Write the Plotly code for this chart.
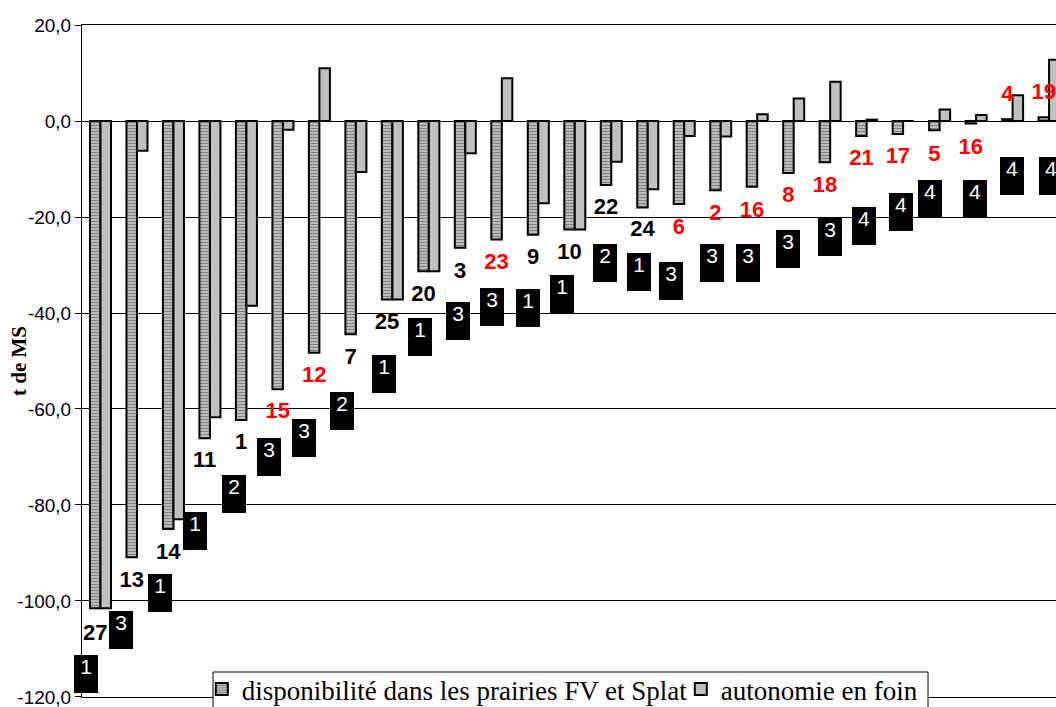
import plotly.graph_objects as go

# Exploitations, in plotting order
farm_ids = [27, 13, 14, 11, 1, 15, 12, 7, 25, 20, 3, 23, 9, 10, 22, 24, 6, 2, 16, 8,
            18, 21, 17, 5, 16, 4, 19]
# True -> identifier printed in red
farm_red = [False, False, False, False, False, True, True, False, False, False, False,
            True, False, False, False, False, True, True, True, True, True, True, True,
            True, True, True, True]

# t de MS
dispo_prairies = [-101.5, -90.9, -85.0, -66.1, -62.3, -55.9, -48.3, -44.4, -37.2, -31.3,
                  -26.4, -24.7, -23.7, -22.6, -13.3, -18.0, -17.3, -14.4, -13.7, -10.8,
                  -8.6, -3.1, -2.7, -1.9, -0.5, 0.4, 0.8]
autonomie_foin = [-101.5, -6.2, -83.0, -61.7, -38.5, -1.8, 11.0, -10.6, -37.2, -31.3,
                  -6.7, 8.9, -17.1, -22.6, -8.5, -14.2, -3.1, -3.2, 1.4, 4.7,
                  8.2, 0.3, 0.0, 2.4, 1.25, 5.4, 12.8]

# class of each farm (black boxes)
farm_class = [1, 3, 1, 1, 2, 3, 3, 2, 1, 1, 3, 3, 1, 1, 2, 1, 3, 3, 3, 3, 3, 4, 4, 4, 4, 4, 4]

# label placement (value axis) for identifiers and class boxes
id_label_y = [-106.9, -96.0, -90.2, -71.0, -67.1, -60.8, -53.3, -49.4, -42.2, -36.25,
              -31.5, -29.6, -28.6, -27.6, -18.3, -22.9, -22.3, -19.4, -18.75, -15.7,
              -13.7, -8.0, -7.6, -7.2, -5.7, 5.25, 5.8]
class_box_y = [-115.2, -106.1, -98.4, -85.5, -77.75, -70.1, -66.1, -60.4, -52.8, -45.0,
               -41.6, -38.7, -39.0, -36.0, -29.6, -31.4, -33.3, -29.6, -29.6, -26.7,
               -24.1, -21.9, -19.0, -16.25, -16.25, -11.4, -11.4]
class_box_shift = [-14.2, -15.8, -13.2, -14.7, -12.2, -14.1, -15.1, -14.1, -8.3, -9.0,
                   -7.6, -9.5, -10.0, -12.4, -6.4, -8.9, -13.7, -9.2, -8.8, -5.3,
                   -0.3, -2.8, -2.4, -9.2, -0.7, -0.7, 1.7]

y_ticks = [-120, -100, -80, -60, -40, -20, 0, 20]
y_tick_text = ["-120,0", "-100,0", "-80,0", "-60,0", "-40,0", "-20,0", "0,0", "20,0"]

x = list(range(len(farm_ids)))
bar_w = 0.288

fig = go.Figure()
fig.add_trace(go.Bar(
    x=x, y=dispo_prairies, name="disponibilité dans les prairies FV et Splat",
    width=bar_w, offset=-bar_w,
    marker=dict(color="#c8c8c8",
                line=dict(color="black", width=2),
                pattern=dict(shape="-", fgcolor="#303030", bgcolor="#d0d0d0",
                             size=3, solidity=0.5)),
))
fig.add_trace(go.Bar(
    x=x, y=autonomie_foin, name="autonomie en foin",
    width=bar_w, offset=0,
    marker=dict(color="#c0c0c0", line=dict(color="black", width=2)),
))
fig.add_trace(go.Scatter(
    x=[i - bar_w / 2 for i in x], y=id_label_y, mode="text",
    text=[f"<b>{f}</b>" for f in farm_ids],
    textposition="middle center",
    textfont=dict(family="Liberation Sans", size=22,
                  color=["#ff0000" if r else "black" for r in farm_red]),
    showlegend=False, hoverinfo="skip",
))

annotations = []
for i, (c, yb, dx) in enumerate(zip(farm_class, class_box_y, class_box_shift)):
    annotations.append(dict(
        x=i, y=yb, xref="x", yref="y", xshift=dx, text=str(c), showarrow=False,
        bgcolor="black", width=24, height=38, borderpad=0, borderwidth=0,
        valign="top", font=dict(family="Liberation Sans", size=21, color="white"),
    ))
annotations.append(dict(
    x=-0.0647, y=0.5, xref="paper", yref="paper", xanchor="center", yanchor="middle",
    text="<b>t de MS</b>", textangle=-90, showarrow=False,
    font=dict(family="Liberation Serif", size=21, color="black"),
))

# frame of the legend box (open at the bottom edge of the page)
shapes = [dict(type="rect", xref="paper", yref="paper",
               x0=0.1345, x1=0.8686, y0=0.0372, y1=-0.03,
               line=dict(color="black", width=1), fillcolor="white", layer="above")]

fig.update_layout(
    width=1056, height=707,
    margin=dict(l=82, r=0, t=25, b=10, autoexpand=False),
    paper_bgcolor="white", plot_bgcolor="white",
    barmode="overlay",
    showlegend=True,
    legend=dict(orientation="h", x=0.123, xanchor="left", y=0.0476, yanchor="top",
                bgcolor="rgba(0,0,0,0)", borderwidth=0, itemwidth=30,
                entrywidth=434, entrywidthmode="pixels",
                font=dict(family="Liberation Serif", size=27, color="black")),
    annotations=annotations,
    shapes=shapes,
    xaxis=dict(range=[-0.507, 26.19], showticklabels=False, showgrid=False,
               zeroline=False, showline=True, linecolor="black", linewidth=1,
               mirror=True, ticks=""),
    yaxis=dict(range=[-120.02, 20.02], tickvals=y_ticks, ticktext=y_tick_text,
               ticklabeloverflow="allow",
               showgrid=True, gridcolor="black", gridwidth=1,
               zeroline=True, zerolinecolor="black", zerolinewidth=1,
               showline=True, linecolor="black", linewidth=1,
               ticks="outside", ticklen=6, tickcolor="black",
               tickfont=dict(family="Liberation Sans", size=19, color="black")),
)

fig.write_html("out.html")
